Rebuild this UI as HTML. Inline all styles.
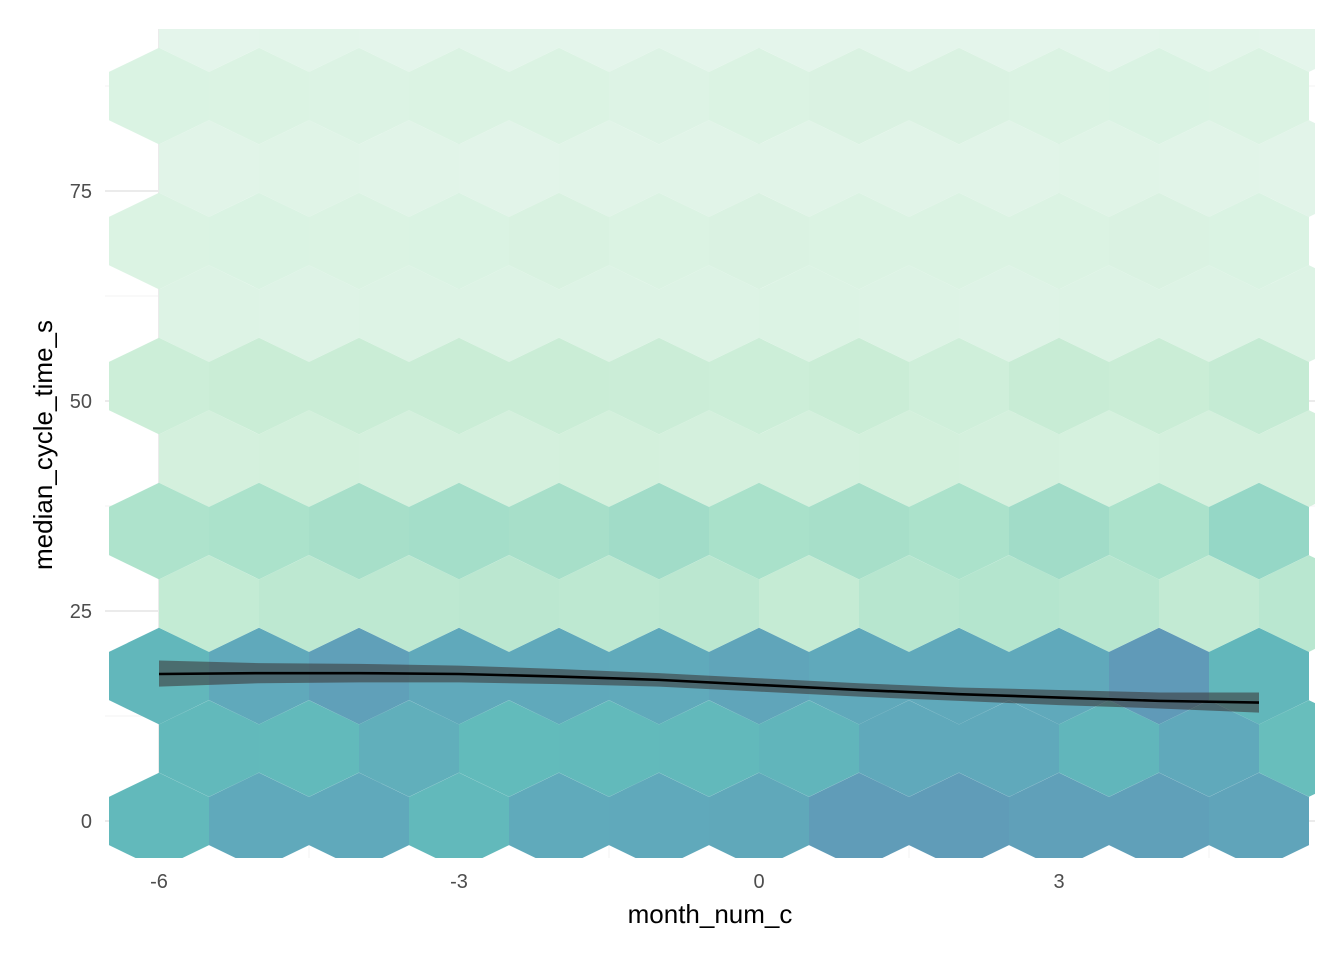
<!DOCTYPE html>
<html><head><meta charset="utf-8"><style>
html,body{margin:0;padding:0;background:#fff;}
svg{display:block;font-family:"Liberation Sans",sans-serif;}
</style></head><body>
<svg id="chart" width="1344" height="960" viewBox="0 0 1344 960" xmlns="http://www.w3.org/2000/svg">
<defs><clipPath id="panel"><rect x="108" y="29" width="1207" height="829"/></clipPath></defs>
<g id="grid"></g>
<g id="hexes" clip-path="url(#panel)"></g>
<g id="smooth"></g>
<g id="axes"></g>
<text x="710" y="923" font-size="26" text-anchor="middle" fill="#000">month_num_c</text>
<text transform="translate(52,445) rotate(-90)" font-size="26" text-anchor="middle" fill="#000">median_cycle_time_s</text>
</svg>
<script>
// data
const xTicks = [-6, -3, 0, 3];
const yTicks = [0, 25, 50, 75];
const xMinor = [-4.5, -1.5, 1.5, 4.5];
const yMinor = [12.5, 37.5, 62.5, 87.5];
const evenRowY = [0, 17.26, 34.52, 51.78, 69.04, 86.3];
const oddRowY = [8.63, 25.89, 43.15, 60.41, 77.67, 94.93];
const evenColX = [-6,-5,-4,-3,-2,-1,0,1,2,3,4,5];
const oddColX = [-5.5,-4.5,-3.5,-2.5,-1.5,-0.5,0.5,1.5,2.5,3.5,4.5,5.5];
// fill intensity (0 = light mint, 1 = dark blue), rows bottom to top
const evenRowFill = [
 [0.72,0.85,0.85,0.72,0.84,0.85,0.87,0.97,0.97,0.93,0.93,0.9],
 [0.73,0.85,0.93,0.85,0.85,0.84,0.89,0.85,0.85,0.85,0.98,0.73],
 [0.43,0.44,0.46,0.47,0.46,0.48,0.45,0.46,0.44,0.48,0.44,0.52],
 [0.28,0.3,0.3,0.3,0.3,0.29,0.28,0.3,0.25,0.31,0.3,0.32],
 [0.12,0.13,0.12,0.13,0.15,0.12,0.14,0.12,0.12,0.12,0.14,0.13],
 [0.13,0.12,0.11,0.12,0.12,0.1,0.12,0.14,0.14,0.12,0.13,0.12]
];
const oddRowFill = [
 [0.72,0.71,0.8,0.7,0.71,0.72,0.75,0.85,0.85,0.74,0.85,0.68],
 [0.33,0.36,0.36,0.37,0.36,0.37,0.32,0.39,0.4,0.39,0.34,0.38],
 [0.2,0.21,0.2,0.2,0.21,0.2,0.2,0.21,0.2,0.19,0.2,0.2],
 [0.1,0.09,0.1,0.1,0.1,0.1,0.11,0.1,0.09,0.1,0.1,0.1],
 [0.06,0.07,0.06,0.05,0.06,0.06,0.06,0.06,0.06,0.07,0.06,0.05],
 [0.03,0.04,0.03,0.03,0.03,0.03,0.03,0.03,0.03,0.03,0.04,0.03]
];
const smoothX = [-6,-5,-4,-3,-2,-1,0,1,2,3,4,5];
const smoothY = [17.5,17.6,17.6,17.5,17.2,16.8,16.2,15.6,15.1,14.7,14.3,14.1];
const smoothLo = [16.0,16.4,16.5,16.5,16.3,16.0,15.4,14.8,14.3,13.8,13.4,12.9];
const smoothHi = [19.1,18.8,18.7,18.5,18.1,17.6,17.0,16.4,15.9,15.6,15.3,15.3];

const NS='http://www.w3.org/2000/svg';
const sx = v => 759 + v*100;
const sy = v => 821 - v*8.4;
function mk(tag, attrs, parent){const e=document.createElementNS(NS,tag);for(const k in attrs)e.setAttribute(k,attrs[k]);parent.appendChild(e);return e;}
const stops=[[0,[230,246,236]],[0.3,[200,236,212]],[0.45,[166,224,200]],[0.7,[92,184,184]],[0.85,[90,166,184]],[1,[90,148,180]]];
function color(t){for(let i=1;i<stops.length;i++){if(t<=stops[i][0]){const a=stops[i-1],b=stops[i];const f=(t-a[0])/(b[0]-a[0]);const c=a[1].map((v,j)=>Math.round(v+(b[1][j]-v)*f));return `rgb(${c})`;}}return `rgb(${stops[stops.length-1][1]})`;}

const grid=document.getElementById('grid');
xMinor.forEach(v=>{const l=mk('line',{x1:sx(v),x2:sx(v),y1:29,y2:858,stroke:'#f3f3f3','stroke-width':1},grid);});
yMinor.forEach(v=>{const l=mk('line',{x1:105,x2:1315,y1:sy(v),y2:sy(v),stroke:'#f3f3f3','stroke-width':1},grid);});
xTicks.forEach(v=>{const l=mk('line',{x1:sx(v),x2:sx(v),y1:29,y2:858,stroke:'#ebebeb','stroke-width':2},grid);});
yTicks.forEach(v=>{const l=mk('line',{x1:105,x2:1315,y1:sy(v),y2:sy(v),stroke:'#ebebeb','stroke-width':2},grid);});

const hexG=document.getElementById('hexes');
const r=48.3, hw=50;
function hex(cx,cy,t){const pts=[[cx,cy-r],[cx+hw,cy-r/2],[cx+hw,cy+r/2],[cx,cy+r],[cx-hw,cy+r/2],[cx-hw,cy-r/2]].map(p=>p.join(',')).join(' ');const p=mk('polygon',{points:pts,fill:color(t),'fill-opacity':0.96},hexG);}
evenRowY.forEach((yv,ri)=>evenColX.forEach((xv,ci)=>hex(sx(xv),sy(yv),evenRowFill[ri][ci])));
oddRowY.forEach((yv,ri)=>oddColX.forEach((xv,ci)=>hex(sx(xv),sy(yv),oddRowFill[ri][ci])));

const sm=document.getElementById('smooth');
let rib='M'+smoothX.map((x,i)=>sx(x)+','+sy(smoothHi[i])).join(' L');
rib+=' L'+smoothX.slice().reverse().map((x,k)=>{const i=smoothX.length-1-k;return sx(x)+','+sy(smoothLo[i]);}).join(' L')+' Z';
const rb=mk('path',{d:rib,fill:'rgb(60,60,60)','fill-opacity':0.6},sm);


const ln=mk('path',{d:'M'+smoothX.map((x,i)=>sx(x)+','+sy(smoothY[i])).join(' L'),fill:'none',stroke:'#000','stroke-width':2.6},sm);



const ax=document.getElementById('axes');
xTicks.forEach(v=>{const t=mk('text',{x:sx(v),y:888,'font-size':20,'text-anchor':'middle',fill:'#4d4d4d'},ax);t.textContent=v;});
yTicks.forEach(v=>{const t=mk('text',{x:92,y:sy(v)+7,'font-size':20,'text-anchor':'end',fill:'#4d4d4d'},ax);t.textContent=v;});
</script>
</body></html>
